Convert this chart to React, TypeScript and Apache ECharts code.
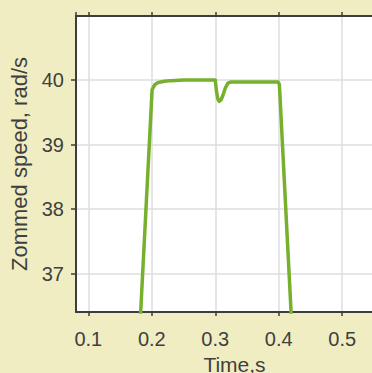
import React, { useEffect, useRef } from "react";
import * as echarts from "echarts";

// Time samples (s) and zoomed rotor speed (rad/s)
const timeS = [
  0.17, 0.1825, 0.2005, 0.202, 0.205, 0.21, 0.22, 0.23, 0.25, 0.28, 0.3,
  0.302, 0.304, 0.306, 0.309, 0.312, 0.316, 0.32, 0.325, 0.35, 0.38, 0.399,
  0.401, 0.42, 0.43,
];
const speed = [
  34.0, 36.41, 39.85, 39.88, 39.93, 39.96, 39.98, 39.99, 40.0, 40.0, 40.0,
  39.82, 39.71, 39.67, 39.69, 39.76, 39.88, 39.95, 39.97, 39.97, 39.97, 39.97,
  39.93, 36.3, 34.4,
];

const xRange = [0.0806, 0.58];
const yRange = [36.41, 40.99];
const xTickValues = [0.1, 0.2, 0.3, 0.4, 0.5];
const yTickValues = [37, 38, 39, 40];

const xLabel = "Time,s";
const yLabel = "Zommed speed, rad/s";

const BG = "#efedc1";
const AXIS = "#3d3d3d";
const TEXT = "#3f3f3f";
const GRID = "#dedede";
const LINE = "#76b02c";
const FONT = "'Liberation Sans', Arial, sans-serif";

const near = (v: number, list: number[]) =>
  list.some((t) => Math.abs(t - v) < 1e-6);

export default function App() {
  const ref = useRef<HTMLDivElement>(null);

  useEffect(() => {
    if (!ref.current) return;
    const chart = echarts.init(ref.current, null, { renderer: "svg" });
    const points = timeS.map((t, i) => [t, speed[i]]);

    chart.setOption({
      animation: false,
      backgroundColor: BG,
      textStyle: { fontFamily: FONT },
      // the plot runs past the right edge of the canvas
      grid: {
        left: 76,
        top: 16,
        width: 317,
        height: 296,
        show: true,
        backgroundColor: "#ffffff",
        borderWidth: 0,
        outerBoundsMode: "none",
        containLabel: false,
      },
      xAxis: [
        {
          type: "value",
          position: "bottom",
          min: xRange[0],
          max: xRange[1],
          name: xLabel,
          nameLocation: "middle",
          nameGap: 37,
          nameTextStyle: { fontSize: 21, color: TEXT, fontFamily: FONT },
          axisLine: { show: true, lineStyle: { color: AXIS, width: 2 } },
          axisTick: {
            show: true,
            inside: false,
            length: 4,
            lineStyle: { color: AXIS, width: 1.5 },
          },
          axisLabel: {
            fontSize: 20,
            color: TEXT,
            fontFamily: FONT,
            margin: 17,
            showMinLabel: false,
            showMaxLabel: false,
            formatter: (v: number) => (near(v, xTickValues) ? v.toFixed(1) : ""),
          },
          splitLine: { show: true, lineStyle: { color: GRID, width: 1.5 } },
        },
        {
          type: "value",
          position: "top",
          min: xRange[0],
          max: xRange[1],
          axisLine: { show: true, lineStyle: { color: AXIS, width: 2 } },
          axisTick: {
            show: true,
            inside: false,
            length: 4,
            lineStyle: { color: AXIS, width: 1.5 },
          },
          axisLabel: { show: false },
          splitLine: { show: false },
        },
      ],
      yAxis: {
        type: "value",
        min: yRange[0],
        max: yRange[1],
        name: yLabel,
        nameLocation: "middle",
        nameGap: 42,
        nameTextStyle: { fontSize: 22, color: TEXT, fontFamily: FONT },
        axisLine: { show: true, lineStyle: { color: AXIS, width: 2 } },
        axisTick: {
          show: true,
          inside: false,
          length: 5,
          lineStyle: { color: AXIS, width: 1.5 },
        },
        axisLabel: {
          fontSize: 20,
          color: TEXT,
          fontFamily: FONT,
          margin: 12,
          showMinLabel: false,
          showMaxLabel: false,
          formatter: (v: number) => (near(v, yTickValues) ? String(v) : ""),
        },
        splitLine: { show: true, lineStyle: { color: GRID, width: 1.5 } },
      },
      series: [
        {
          type: "line",
          data: points,
          xAxisIndex: 0,
          showSymbol: false,
          symbol: "none",
          smooth: false,
          clip: true,
          lineStyle: { color: LINE, width: 3.5, join: "round", cap: "round" },
        },
      ],
    });

    return () => chart.dispose();
  }, []);

  return (
    <div
      ref={ref}
      style={{
        position: "fixed",
        left: 0,
        top: 0,
        width: 372,
        height: 373,
        background: BG,
      }}
    />
  );
}
